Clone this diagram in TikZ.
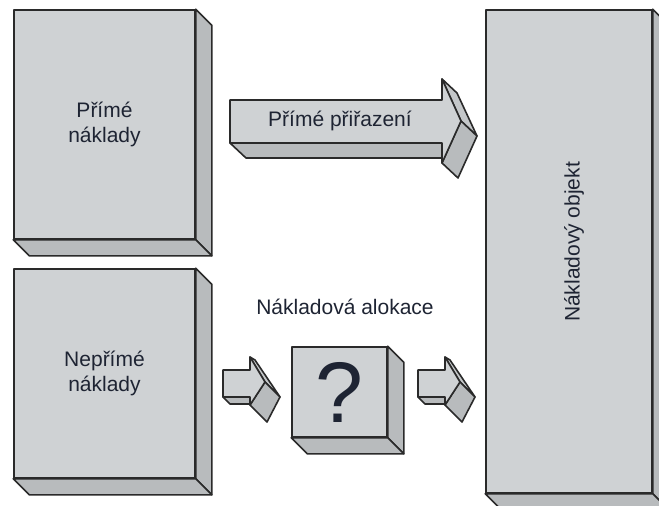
\documentclass[tikz,border=0pt]{standalone}
\usepackage{fontspec}
\setmainfont{Liberation Sans}
\usetikzlibrary{calc}
\definecolor{frontc}{HTML}{CFD2D4}
\definecolor{sidec}{HTML}{B8BBBD}
\definecolor{upperc}{HTML}{C4C7C9}
\definecolor{edgec}{HTML}{2A2A2A}
\definecolor{txtc}{HTML}{1E2433}
\begin{document}
\begin{tikzpicture}[x=1pt,y=-1pt,
  face/.style={draw=edgec, line width=1.6pt, line join=round},
  frontface/.style={face, fill=frontc},
  sideface/.style={face, fill=sidec},
  upperface/.style={face, fill=upperc},
  frontbox/.style={frontface, rectangle, inner sep=0pt, text=txtc,
    font=\fontsize{21}{25}\selectfont, align=center},
  lbl/.style={text=txtc, font=\fontsize{21}{25}\selectfont, align=center, inner sep=0pt}]
\clip (0,0) rectangle (659,506);
\fill[white] (0,0) rectangle (659,506);

% Box: Prime naklady
\node[frontbox, minimum width=181pt, minimum height=229pt] (prime) at (104.5,124.5) {Přímé\\náklady};
\draw[sideface] (prime.north east) -- ++(16,16) -- ($(prime.south east)+(16,16)$) -- (prime.south east) -- cycle;
\draw[sideface] (prime.south west) -- (prime.south east) -- ($(prime.south east)+(16,16)$) -- ($(prime.south west)+(16,16)$) -- cycle;

% Box: Neprime naklady
\node[frontbox, minimum width=181pt, minimum height=209pt] (neprime) at (104.5,373.5) {Nepřímé\\náklady};
\draw[sideface] (neprime.north east) -- ++(16,16) -- ($(neprime.south east)+(16,16)$) -- (neprime.south east) -- cycle;
\draw[sideface] (neprime.south west) -- (neprime.south east) -- ($(neprime.south east)+(16,16)$) -- ($(neprime.south west)+(16,16)$) -- cycle;

% Box: Nakladovy objekt
\node[frontbox, minimum width=166pt, minimum height=483pt] (objekt) at (569,251.5) {};
\draw[sideface] (objekt.north east) -- ++(16,16) -- ($(objekt.south east)+(16,16)$) -- (objekt.south east) -- cycle;
\draw[sideface] (objekt.south west) -- (objekt.south east) -- ($(objekt.south east)+(16,16)$) -- ($(objekt.south west)+(16,16)$) -- cycle;
\node[lbl, rotate=90] (objtext) at (574,242) {Nákladový objekt};

% Box: ?
\node[frontbox, minimum width=95pt, minimum height=90pt, font=\fontsize{86}{90}\selectfont] (alok) at (339.5,392) {?};
\draw[sideface] (alok.north east) -- ++(16,16) -- ($(alok.south east)+(16,16)$) -- (alok.south east) -- cycle;
\draw[sideface] (alok.south west) -- (alok.south east) -- ($(alok.south east)+(16,16)$) -- ($(alok.south west)+(16,16)$) -- cycle;
\node[lbl] (aloklabel) at (345,307) {Nákladová alokace};

% Big arrow: Prime prirazeni
\draw[sideface] (230,143) -- (442,143) -- (458,158) -- (246,158) -- cycle;
\draw[upperface] (442,79) -- (457,93) -- (477,136) -- (461,121) -- cycle;
\draw[sideface] (461,121) -- (477,136) -- (458,178) -- (442,163) -- cycle;
\draw[frontface] (230,100) -- (442,100) -- (442,79) -- (461,121) -- (442,163) -- (442,143) -- (230,143) -- cycle;
\node[lbl] (prirazeni) at (340,121) {Přímé přiřazení};

% Small arrows
\foreach \sx in {223,418}{
\begin{scope}[shift={(\sx,370)}]
\draw[sideface] (0,27) -- (27,27) -- (34,34) -- (7,34) -- cycle;
\draw[upperface] (27,-13) -- (32,-10) -- (57,27) -- (42,12) -- cycle;
\draw[sideface] (42,12) -- (57,27) -- (44,52) -- (27,35) -- cycle;
\draw[frontface] (0,0) -- (27,0) -- (27,-13) -- (42,12) -- (27,35) -- (27,27) -- (0,27) -- cycle;
\end{scope}}
\end{tikzpicture}
\end{document}
